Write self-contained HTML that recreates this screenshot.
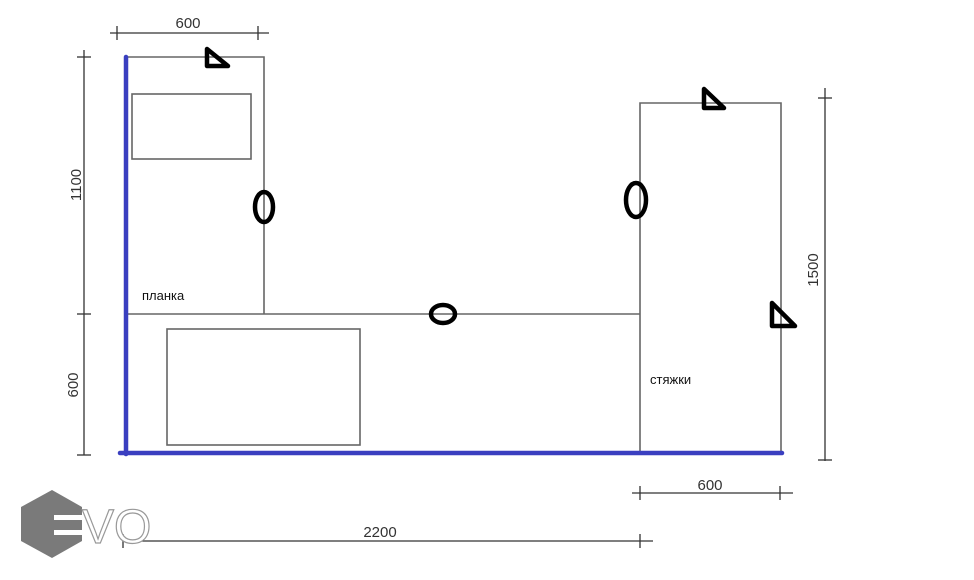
<!DOCTYPE html>
<html><head><meta charset="utf-8"><style>
html,body{margin:0;padding:0;background:#fff;}
svg{display:block;}
text{font-family:"Liberation Sans",sans-serif;}
</style></head><body>
<svg width="974" height="580" viewBox="0 0 974 580" xmlns="http://www.w3.org/2000/svg">
<g stroke="#333" stroke-width="1.3" fill="none">
<line x1="110" y1="33" x2="269" y2="33"/>
<line x1="117" y1="26" x2="117" y2="40"/>
<line x1="258" y1="26" x2="258" y2="40"/>
<line x1="84" y1="50" x2="84" y2="455"/>
<line x1="77" y1="57" x2="91" y2="57"/>
<line x1="77" y1="314" x2="91" y2="314"/>
<line x1="77" y1="455" x2="91" y2="455"/>
<line x1="825" y1="88" x2="825" y2="461"/>
<line x1="818" y1="98" x2="832" y2="98"/>
<line x1="818" y1="460" x2="832" y2="460"/>
<line x1="632" y1="493" x2="793" y2="493"/>
<line x1="640" y1="486" x2="640" y2="500"/>
<line x1="780" y1="486" x2="780" y2="500"/>
<line x1="123" y1="541" x2="653" y2="541"/>
<line x1="123" y1="534" x2="123" y2="548"/>
<line x1="640" y1="534" x2="640" y2="548"/>
</g>
<g stroke="#666" stroke-width="1.6" fill="none">
<polyline points="128,57 264,57 264,314"/>
<rect x="132" y="94" width="119" height="65"/>
<line x1="128" y1="314" x2="640" y2="314"/>
<rect x="167" y="329" width="193" height="116"/>
<polyline points="640,453 640,103 781,103 781,453"/>
</g>
<line x1="126" y1="57" x2="126" y2="454" stroke="#3a3fc0" stroke-width="4.5" stroke-linecap="round"/>
<line x1="120" y1="453" x2="782" y2="453" stroke="#3a3fc0" stroke-width="4.5" stroke-linecap="round"/>
<g stroke="#000" stroke-width="4.5" fill="none" stroke-linejoin="round">
<ellipse cx="264" cy="207" rx="9" ry="15"/>
<ellipse cx="636" cy="200" rx="10" ry="17"/>
<ellipse cx="443" cy="314" rx="12" ry="9"/>
<polygon points="207,49 207,66 228,66"/>
<polygon points="704,89 704,108 724,108"/>
<polygon points="772,303 772,326 795,326"/>
</g>
<g fill="#333" font-size="15">
<text x="188" y="28" text-anchor="middle">600</text>
<text x="710" y="490" text-anchor="middle">600</text>
<text x="380" y="537" text-anchor="middle">2200</text>
<text transform="translate(81,185) rotate(-90)" text-anchor="middle">1100</text>
<text transform="translate(78,385) rotate(-90)" text-anchor="middle">600</text>
<text transform="translate(818,270) rotate(-90)" text-anchor="middle">1500</text>
</g>
<g fill="#111" font-size="13">
<text x="142" y="300">планка</text>
<text x="650" y="384">стяжки</text>
</g>
<polygon points="52,490 82,507 82,541 52,558 21,541 21,507" fill="#7a7a7a"/>
<rect x="54" y="515" width="30" height="5" fill="#fff"/>
<rect x="54" y="530" width="30" height="5" fill="#fff"/>
<text x="82" y="543" font-size="48" fill="#fff" stroke="#999" stroke-width="1.2">VO</text>
</svg>
</body></html>
